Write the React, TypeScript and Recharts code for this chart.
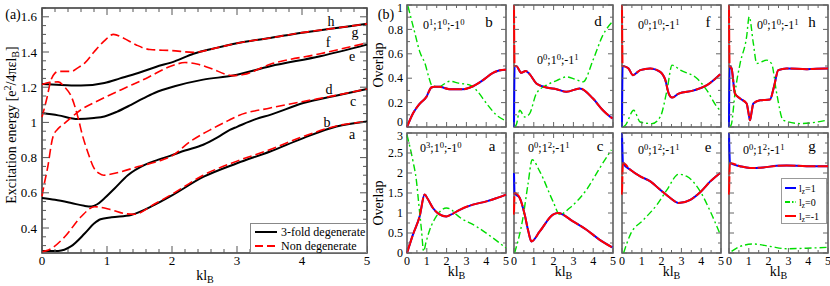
import React from "react";
import { Legend, Line, LineChart, ReferenceArea, XAxis, YAxis } from "recharts";

const SERIF = '"Liberation Serif", "DejaVu Serif", serif';

// ---------------------------------------------------------------------------
// (a) excitation energies vs kl_B — [k, energy]
// ---------------------------------------------------------------------------
const E_A = [
  [0, 0.27], [0.25, 0.27], [0.45, 0.297], [0.66, 0.37], [0.8, 0.425], [0.9, 0.45],
  [1.07, 0.461], [1.37, 0.474], [1.73, 0.531], [2.0, 0.585], [2.48, 0.69], [3.0, 0.768],
  [3.51, 0.835], [4.02, 0.911], [4.53, 0.977], [5, 1.005],
];
const E_B = [
  [0, 0.265], [0.1, 0.275], [0.35, 0.35], [0.6, 0.464], [0.81, 0.521], [1.07, 0.503],
  [1.27, 0.482], [1.42, 0.478], [1.73, 0.536], [2.0, 0.592], [2.48, 0.7], [3.0, 0.78],
  [3.51, 0.846], [4.02, 0.92], [4.53, 0.98], [5, 1.005],
];
const E_C = [
  [0, 0.57], [0.2, 0.56], [0.45, 0.542], [0.65, 0.526], [0.76, 0.522], [0.85, 0.535],
  [0.95, 0.565], [1.12, 0.626], [1.32, 0.7], [1.58, 0.759], [1.78, 0.787], [1.97, 0.81],
  [2.2, 0.84], [2.48, 0.873], [2.7, 0.915], [2.89, 0.958], [3.0, 0.975], [3.3, 1.02],
  [3.51, 1.043], [4.02, 1.11], [4.5, 1.15], [5, 1.19],
];
const E_D = [
  [0, 1.215], [0.12, 1.228], [0.25, 1.23], [0.35, 1.2], [0.45, 1.148], [0.55, 1.034],
  [0.62, 0.93], [0.71, 0.825], [0.8, 0.74], [0.88, 0.71], [0.95, 0.7], [1.05, 0.705],
  [1.22, 0.72], [1.48, 0.749], [1.78, 0.778], [2.0, 0.81], [2.28, 0.891], [2.64, 0.968],
  [2.89, 1.015], [3.0, 1.035], [3.51, 1.082], [4.02, 1.119], [4.5, 1.152], [5, 1.19],
];
const E_E = [
  [0, 1.053], [0.25, 1.04], [0.55, 1.019], [0.8, 1.025], [0.96, 1.034], [1.15, 1.06],
  [1.37, 1.1], [1.55, 1.135], [1.73, 1.167], [2.04, 1.205], [2.48, 1.243], [2.94, 1.266],
  [3.51, 1.319], [4.28, 1.376], [5, 1.442],
];
const E_F = [
  [0, 0.58], [0.04, 0.66], [0.08, 0.73], [0.17, 0.92], [0.25, 0.965], [0.35, 0.996],
  [0.6, 1.072], [0.9, 1.13], [1.22, 1.186], [1.6, 1.25], [2.0, 1.322], [2.2, 1.34],
  [2.4, 1.33], [2.58, 1.309], [2.94, 1.266], [3.1, 1.272], [3.51, 1.33], [4.28, 1.39],
  [5, 1.452],
];
const E_G = [
  [0, 1.03], [0.07, 1.13], [0.14, 1.243], [0.2, 1.28], [0.25, 1.29], [0.45, 1.29],
  [0.55, 1.31], [0.66, 1.338], [0.8, 1.4], [0.95, 1.46], [1.1, 1.5], [1.25, 1.48],
  [1.45, 1.44], [1.66, 1.414], [2.0, 1.408], [2.33, 1.398], [2.7, 1.425], [3.0, 1.45],
  [3.51, 1.48], [4.0, 1.51], [4.5, 1.535], [5, 1.56],
];
const E_H = [
  [0, 1.218], [0.3, 1.213], [0.6, 1.209], [0.96, 1.224], [1.2, 1.25], [1.48, 1.281],
  [1.75, 1.315], [2.04, 1.347], [2.33, 1.39], [2.7, 1.425], [3.0, 1.45], [3.51, 1.48],
  [4.0, 1.51], [4.5, 1.535], [5, 1.56],
];

// ---------------------------------------------------------------------------
// (b) overlaps — PM = l_z=±1 (blue and red coincide), Z = l_z=0
// ---------------------------------------------------------------------------
const OV_B_PM = [
  [0, 0], [0.3, 0.11], [0.64, 0.19], [0.98, 0.247], [1.23, 0.324], [1.4, 0.33],
  [1.65, 0.329], [2.15, 0.31], [2.83, 0.31], [3.33, 0.334], [3.84, 0.384], [4.34, 0.444],
  [4.93, 0.47], [5, 0.47],
];
const OV_B_Z = [
  [0.05, 0.99], [0.35, 0.8], [0.66, 0.61], [0.91, 0.52], [1.1, 0.41], [1.25, 0.343],
  [1.58, 0.329], [2.17, 0.375], [2.6, 0.36], [3.18, 0.343], [3.52, 0.3], [4.02, 0.192],
  [4.53, 0.096], [4.95, 0.055],
];
const OV_D_PM = [
  [0.03, 0.5], [0.12, 0.499], [0.37, 0.444], [0.59, 0.46], [0.79, 0.433], [1.13, 0.357],
  [1.64, 0.324], [2.15, 0.31], [2.65, 0.288], [3.32, 0.316], [3.99, 0.233], [4.49, 0.137],
  [4.97, 0.069],
];
const OV_D_Z = [
  [0.05, 0], [0.12, 0.02], [0.29, 0.137], [0.54, 0.082], [0.79, 0.11], [1.13, 0.274],
  [1.64, 0.343], [2.15, 0.38], [2.65, 0.411], [3.1, 0.39], [3.49, 0.37], [3.99, 0.548],
  [4.49, 0.753], [4.97, 0.863],
];
const OV_F_PM = [
  [0.03, 0.5], [0.08, 0.499], [0.33, 0.48], [0.55, 0.425], [0.92, 0.466], [1.43, 0.48],
  [1.93, 0.452], [2.19, 0.384], [2.36, 0.274], [2.53, 0.241], [2.86, 0.274], [3.62, 0.3],
  [4.29, 0.343], [4.96, 0.433],
];
const OV_F_Z = [
  [0.05, 0], [0.17, 0.014], [0.59, 0.137], [0.92, 0.041], [1.51, 0.028], [1.93, 0.082],
  [2.27, 0.3], [2.53, 0.507], [2.95, 0.466], [3.79, 0.398], [4.29, 0.3], [4.8, 0.164],
  [5, 0.13],
];
const OV_H_PM = [
  [0.03, 0.5], [0.13, 0.48], [0.3, 0.274], [0.56, 0.233], [0.89, 0.192], [0.98, 0.12],
  [1.06, 0.055], [1.14, 0.12], [1.23, 0.192], [1.57, 0.219], [2.07, 0.225], [2.27, 0.329],
  [2.49, 0.466], [2.91, 0.48], [3.92, 0.474], [4.93, 0.48], [5, 0.48],
];
const OV_H_Z = [
  [0.05, 0], [0.13, 0.028], [0.3, 0.274], [0.56, 0.52], [0.89, 0.74], [1.02, 0.904],
  [1.23, 0.685], [1.4, 0.52], [1.9, 0.548], [2.15, 0.52], [2.41, 0.274], [2.74, 0.055],
  [3.59, 0.028], [4.93, 0.055],
];
const OV_A_PM = [
  [0, 0], [0.3, 0.46], [0.64, 0.92], [0.89, 1.46], [1.05, 1.35], [1.31, 1.125],
  [1.6, 0.98], [1.99, 0.915], [2.3, 0.98], [2.66, 1.08], [3.33, 1.21], [4.01, 1.29],
  [4.5, 1.37], [5, 1.46],
];
const OV_A_Z = [
  [0, 2.95], [0.3, 2.3], [0.47, 1.83], [0.6, 1.2], [0.73, 0.58], [0.84, 0.04],
  [0.95, 0.25], [1.15, 0.58], [1.48, 0.915], [1.99, 1.125], [2.25, 1.08], [2.49, 0.96],
  [3.5, 0.665], [4.34, 0.375], [5, 0.125],
];
const OV_C_PM = [
  [0.03, 1.5], [0.29, 1.375], [0.54, 0.96], [0.72, 0.55], [0.88, 0.29], [1.3, 0.54],
  [1.97, 0.96], [2.22, 1.0], [2.98, 0.79], [3.66, 0.58], [4.33, 0.33], [4.97, 0.14],
];
const OV_C_Z = [
  [0.03, 0], [0.45, 0.875], [0.7, 1.7], [0.92, 2.33], [1.3, 2.04], [1.97, 1.29],
  [2.31, 0.96], [2.81, 1.125], [3.66, 1.58], [4.33, 2.125], [4.92, 2.58],
];
const OV_E_PM = [
  [0.05, 2.25], [0.42, 2.08], [0.92, 1.915], [1.43, 1.79], [1.93, 1.58], [2.44, 1.375],
  [2.86, 1.25], [3.45, 1.33], [3.95, 1.52], [4.46, 1.79], [4.96, 2.0],
];
const OV_E_Z = [
  [0.08, 0], [0.42, 0.46], [1.09, 0.83], [1.77, 1.21], [2.27, 1.58], [2.86, 1.97],
  [3.28, 1.915], [3.95, 1.54], [4.46, 1.04], [4.93, 0.5],
];
const OV_G_PM = [
  [0.05, 2.25], [0.56, 2.17], [1.06, 2.125], [1.73, 2.14], [2.41, 2.18], [2.91, 2.19],
  [3.92, 2.17], [4.93, 2.17], [5, 2.17],
];
const OV_G_Z = [
  [0.13, 0.04], [0.56, 0.165], [1.23, 0.225], [2.07, 0.165], [2.91, 0.107], [3.92, 0.12],
  [4.93, 0.14],
];

// values at kl_B = 0 where the ±1 curves jump (the vertical strokes on the left edge)
const EDGE_BLUE = { d: 0, f: 0, h: 0, c: 2.0, e: 3.0, g: 3.0 } as Record<string, number>;
const EDGE_RED = { d: 1, f: 1, h: 1, c: 0.96, e: 1.46, g: 1.46 } as Record<string, number>;

// tick positions
const range = (a: number, b: number, step: number) =>
  Array.from({ length: Math.round((b - a) / step) + 1 }, (_, i) => +(a + i * step).toFixed(3));
const A_X_MAJOR = [0, 1, 2, 3, 4, 5];
const A_Y_MAJOR = [0.4, 0.6, 0.8, 1, 1.2, 1.4, 1.6];
const B_X_MAJOR = [0, 1, 2, 3, 4, 5];
const B_TOP_MAJOR = [0, 0.2, 0.4, 0.6, 0.8, 1];
const B_BOT_MAJOR = [0, 0.5, 1, 1.5, 2, 2.5, 3];

type Pt = { k: number; v: number };
const pts = (rows: number[][]): Pt[] => rows.map(([k, v]) => ({ k, v }));

const isMajor = (majors: number[], v: number) => majors.some((m) => Math.abs(m - v) < 1e-6);
const fmt = (v: number) => String(+v.toFixed(2));

type TickOpts = {
  majors: number[];
  span: number;
  majorLen: number;
  minorLen: number;
  labels: boolean;
  fontSize: number;
  gap: number;
  stroke: string;
  nudge?: (v: number) => number;
};

// ticks point inward and are mirrored on the opposite side of the frame
function yTick(o: TickOpts) {
  return (p: any) => {
    const v = p.payload.value;
    const big = isMajor(o.majors, v);
    const len = big ? o.majorLen : o.minorLen;
    const dy = o.nudge ? o.nudge(v) : 0;
    return (
      <g>
        <line x1={p.x} x2={p.x + len} y1={p.y} y2={p.y} stroke={o.stroke} />
        <line x1={p.x + o.span - len} x2={p.x + o.span} y1={p.y} y2={p.y} stroke={o.stroke} />
        {o.labels && big ? (
          <text x={p.x - o.gap} y={p.y + dy} dy="0.35em" textAnchor="end" fontSize={o.fontSize} fontFamily={SERIF} fill="#000">
            {fmt(v)}
          </text>
        ) : null}
      </g>
    );
  };
}

function xTick(o: TickOpts) {
  return (p: any) => {
    const v = p.payload.value;
    const big = isMajor(o.majors, v);
    const len = big ? o.majorLen : o.minorLen;
    return (
      <g>
        <line x1={p.x} x2={p.x} y1={p.y} y2={p.y - len} stroke={o.stroke} />
        <line x1={p.x} x2={p.x} y1={p.y - o.span} y2={p.y - o.span + len} stroke={o.stroke} />
        {o.labels && big ? (
          <text x={p.x} y={p.y + o.gap} dy="0.71em" textAnchor="middle" fontSize={o.fontSize} fontFamily={SERIF} fill="#000">
            {fmt(v)}
          </text>
        ) : null}
      </g>
    );
  };
}

function Txt({ x, y, size, children, rotate, anchor = "center" }: any) {
  const tx = anchor === "left" ? "0" : "-50%";
  return (
    <div
      style={{
        position: "absolute",
        left: x,
        top: y,
        transform: `translate(${tx}, -50%)${rotate ? ` rotate(${rotate}deg)` : ""}`,
        fontFamily: SERIF,
        fontSize: size,
        lineHeight: 1,
        whiteSpace: "nowrap",
        color: "#000",
      }}
    >
      {children}
    </div>
  );
}

const sup = { fontSize: "0.72em", verticalAlign: "0.5em", lineHeight: 0 };
const sub = { fontSize: "0.72em", verticalAlign: "-0.3em", lineHeight: 0 };

const Config = ({ e }: { e: number[] }) => (
  <>
    0<span style={sup}>{e[0]}</span>;1<span style={sup}>{e[1]}</span>;-1<span style={sup}>{e[2]}</span>
  </>
);

// ---------------------------------------------------------------------------
// panel (a)
// ---------------------------------------------------------------------------
const A_LEFT = 42;
const A_RIGHT = 367;
const A_TOP = 8;
const A_BOTTOM = 253;
const A_W = 380;
const A_H = 286;
const A_YMIN = 0.258;
const A_YMAX = 1.65;

function LegendA() {
  const row = (dash: string | undefined, color: string, label: string) => (
    <div style={{ display: "flex", alignItems: "center", height: 14 }}>
      <svg width={26} height={6}>
        <line x1={3} x2={25} y1={3} y2={3} stroke={color} strokeWidth={2} strokeDasharray={dash} />
      </svg>
      <span style={{ marginLeft: 3 }}>{label}</span>
    </div>
  );
  return (
    <div
      style={{
        width: 117,
        height: 30,
        boxSizing: "border-box",
        border: "1px solid #888",
        background: "#fff",
        fontFamily: SERIF,
        fontSize: 12,
        padding: "1px 0 0 1px",
      }}
    >
      {row(undefined, "#000", "3-fold degenerate")}
      {row("8 4", "#ff0000", "Non degenerate")}
    </div>
  );
}

function PanelA() {
  const black = [E_A, E_C, E_E, E_H];
  const red = [E_B, E_D, E_F, E_G];
  return (
    <div style={{ position: "absolute", left: 0, top: 0 }}>
      <LineChart width={A_W} height={A_H} margin={{ top: A_TOP, right: A_W - A_RIGHT, bottom: 0, left: 0 }}>
        <XAxis
          dataKey="k"
          type="number"
          domain={[0, 5]}
          ticks={range(0, 5, 0.2)}
          interval={0}
          height={A_H - A_BOTTOM}
          tickSize={0}
          tickMargin={0}
          tickLine={false}
          axisLine={false}
          tick={xTick({ majors: A_X_MAJOR, span: A_BOTTOM - A_TOP, majorLen: 7, minorLen: 4, labels: true, fontSize: 13, gap: 3, stroke: "#555" })}
        />
        <YAxis
          type="number"
          domain={[A_YMIN, A_YMAX]}
          ticks={range(0.3, 1.65, 0.05)}
          interval={0}
          width={A_LEFT}
          tickSize={0}
          tickMargin={0}
          tickLine={false}
          axisLine={false}
          tick={yTick({ majors: A_Y_MAJOR, span: A_RIGHT - A_LEFT, majorLen: 7, minorLen: 4, labels: true, fontSize: 13, gap: 5, stroke: "#555" })}
        />
        <ReferenceArea x1={0} x2={5} y1={A_YMIN} y2={A_YMAX} fill="none" stroke="#333" strokeWidth={1.5} />
        {black.map((s, i) => (
          <Line key={`k${i}`} data={pts(s)} dataKey="v" type="monotone" stroke="#000" strokeWidth={2} dot={false} isAnimationActive={false} />
        ))}
        {red.map((s, i) => (
          <Line key={`r${i}`} data={pts(s)} dataKey="v" type="monotone" stroke="#ff0000" strokeWidth={1.6} strokeDasharray="9 4" dot={false} isAnimationActive={false} />
        ))}
        <Legend
          layout="horizontal"
          verticalAlign="middle"
          align="center"
          wrapperStyle={{ left: 250, top: 223, width: 117, height: 30 }}
          content={() => <LegendA />}
        />
      </LineChart>
    </div>
  );
}

// ---------------------------------------------------------------------------
// panel (b)
// ---------------------------------------------------------------------------
const B_COLS = [407, 514, 622, 729];
const B_ROWS = [
  { top: 5, h: 122, ymax: 1, ticks: range(0, 1, 0.1), majors: B_TOP_MAJOR, nudge: (v: number) => (v === 0 ? -5 : v === 1 ? 3 : 0) },
  { top: 133, h: 120, ymax: 3, ticks: range(0, 3, 0.25), majors: B_BOT_MAJOR, nudge: (v: number) => (v === 3 ? 3 : 0) },
];
const B_W = 99;
const LM = 30;
const TM = 4;
const RM = 3;
const BM = 30;

const PANELS = [
  { id: "b", col: 0, row: 0, pm: OV_B_PM, z: OV_B_Z, e: [1, 0, 0], ann: [423, 25], tag: [489, 22] },
  { id: "d", col: 1, row: 0, pm: OV_D_PM, z: OV_D_Z, e: [0, 0, 1], ann: [537, 60], tag: [598, 21] },
  { id: "f", col: 2, row: 0, pm: OV_F_PM, z: OV_F_Z, e: [0, 0, 1], ann: [638, 25], tag: [708, 22] },
  { id: "h", col: 3, row: 0, pm: OV_H_PM, z: OV_H_Z, e: [0, 0, 1], ann: [757, 25], tag: [812, 22] },
  { id: "a", col: 0, row: 1, pm: OV_A_PM, z: OV_A_Z, e: [3, 0, 0], ann: [420, 148], tag: [492, 146] },
  { id: "c", col: 1, row: 1, pm: OV_C_PM, z: OV_C_Z, e: [0, 2, 1], ann: [528, 148], tag: [600, 146] },
  { id: "e", col: 2, row: 1, pm: OV_E_PM, z: OV_E_Z, e: [0, 2, 1], ann: [638, 150], tag: [708, 147] },
  { id: "g", col: 3, row: 1, pm: OV_G_PM, z: OV_G_Z, e: [0, 2, 1], ann: [743, 150], tag: [812, 146] },
];

function LegendB() {
  const row = (dash: string | undefined, color: string, label: string) => (
    <div style={{ display: "flex", alignItems: "center", height: 14 }}>
      <svg width={14} height={6}>
        <line x1={2} x2={13} y1={3} y2={3} stroke={color} strokeWidth={2} strokeDasharray={dash} />
      </svg>
      <span style={{ marginLeft: 2 }}>
        l<span style={sub}>z</span>={label}
      </span>
    </div>
  );
  return (
    <div
      style={{
        width: 46,
        height: 46,
        boxSizing: "border-box",
        border: "1px solid #999",
        background: "#fff",
        fontFamily: SERIF,
        fontSize: 10,
        padding: "2px 0 0 1px",
      }}
    >
      {row(undefined, "#0000ff", "1")}
      {row("5 2 1.5 2", "#00dd00", "0")}
      {row(undefined, "#ff0000", "-1")}
    </div>
  );
}

function OverlapPanel({ p }: { p: (typeof PANELS)[number] }) {
  const left = B_COLS[p.col];
  const r = B_ROWS[p.row];
  const blue = pts(p.pm);
  const red = pts(p.pm);
  if (p.id in EDGE_BLUE) {
    blue.unshift({ k: 0, v: EDGE_BLUE[p.id] });
    red.unshift({ k: 0, v: EDGE_RED[p.id] });
  }
  return (
    <div style={{ position: "absolute", left: left - LM, top: r.top - TM }}>
      <LineChart width={B_W + LM + RM} height={r.h + TM + BM} margin={{ top: TM, right: RM, bottom: 0, left: 0 }}>
        <XAxis
          dataKey="k"
          type="number"
          domain={[0, 5]}
          ticks={range(0, 5, 0.5)}
          interval={0}
          height={BM}
          tickSize={0}
          tickMargin={0}
          tickLine={false}
          axisLine={false}
          tick={xTick({ majors: B_X_MAJOR, span: r.h, majorLen: 5, minorLen: 3, labels: p.row === 1, fontSize: 12, gap: 3, stroke: "#666" })}
        />
        <YAxis
          type="number"
          domain={[0, r.ymax]}
          ticks={r.ticks}
          interval={0}
          width={LM}
          tickSize={0}
          tickMargin={0}
          tickLine={false}
          axisLine={false}
          tick={yTick({ majors: r.majors, span: B_W, majorLen: 5, minorLen: 3, labels: p.col === 0, fontSize: 12, gap: 4, stroke: "#666", nudge: r.nudge })}
        />
        <ReferenceArea x1={0} x2={5} y1={0} y2={r.ymax} fill="none" stroke="#555" strokeWidth={1.5} />
        <Line data={blue} dataKey="v" type="monotone" stroke="#0000ff" strokeWidth={2} dot={false} isAnimationActive={false} />
        <Line data={pts(p.z)} dataKey="v" type="monotone" stroke="#00dd00" strokeWidth={1.4} strokeDasharray="7 3 2 3" dot={false} isAnimationActive={false} />
        <Line data={red} dataKey="v" type="monotone" stroke="#ff0000" strokeWidth={2} strokeDasharray="18 2" dot={false} isAnimationActive={false} />
        {p.id === "g" ? (
          <Legend
            layout="horizontal"
            verticalAlign="middle"
            align="center"
            wrapperStyle={{ left: 781 - (left - LM), top: 178 - (r.top - TM), width: 46, height: 46 }}
            content={() => <LegendB />}
          />
        ) : null}
      </LineChart>
    </div>
  );
}

export default function App() {
  return (
    <div style={{ position: "absolute", left: 0, top: 0, width: 830, height: 286, background: "#fff", overflow: "hidden" }}>
      <PanelA />
      {PANELS.map((p) => (
        <OverlapPanel key={p.id} p={p} />
      ))}

      {/* panel (a) texts */}
      <Txt x={13} y={15} size={14}>(a)</Txt>
      <Txt x={12} y={125} size={14} rotate={-90}>
        Excitation energy [e<span style={sup}>2</span>/4πεl<span style={sub}>B</span>]
      </Txt>
      <Txt x={205} y={276} size={14}>
        kl<span style={sub}>B</span>
      </Txt>
      <Txt x={331} y={22} size={14}>h</Txt>
      <Txt x={355} y={33} size={14}>g</Txt>
      <Txt x={328} y={43} size={14}>f</Txt>
      <Txt x={352} y={57} size={14}>e</Txt>
      <Txt x={329} y={90} size={14}>d</Txt>
      <Txt x={353} y={102} size={14}>c</Txt>
      <Txt x={327} y={123} size={14}>b</Txt>
      <Txt x={352} y={135} size={14}>a</Txt>

      {/* panel (b) texts */}
      <Txt x={386} y={15} size={14}>(b)</Txt>
      <Txt x={379} y={65} size={14} rotate={-90}>Overlap</Txt>
      <Txt x={379} y={203} size={14} rotate={-90}>Overlap</Txt>
      {B_COLS.map((l) => (
        <Txt key={l} x={l + B_W / 2} y={272} size={14}>
          kl<span style={sub}>B</span>
        </Txt>
      ))}
      {PANELS.map((p) => (
        <React.Fragment key={`t${p.id}`}>
          <Txt x={p.ann[0]} y={p.ann[1]} size={12} anchor="left">
            <Config e={p.e} />
          </Txt>
          <Txt x={p.tag[0]} y={p.tag[1]} size={15}>{p.id}</Txt>
        </React.Fragment>
      ))}
    </div>
  );
}
